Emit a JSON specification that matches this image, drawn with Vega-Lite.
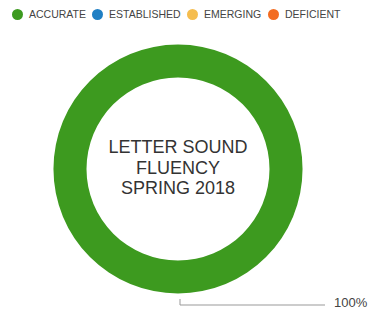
{
  "$schema": "https://vega.github.io/schema/vega-lite/v6.json",
  "width": 356,
  "height": 294,
  "autosize": {"type": "none"},
  "padding": {"left": 0, "top": 22, "right": 14, "bottom": 0},
  "background": "white",
  "config": {"view": {"stroke": null}, "font": "Liberation Sans"},
  "layer": [
    {
      "data": {"values": [{"category": "ACCURATE", "pct": 100}]},
      "mark": {"type": "arc", "outerRadius": 124.5, "innerRadius": 91.5},
      "encoding": {
        "theta": {"field": "pct", "type": "quantitative", "stack": true},
        "color": {
          "field": "category",
          "type": "nominal",
          "scale": {
            "domain": ["ACCURATE", "ESTABLISHED", "EMERGING", "DEFICIENT"],
            "range": ["#3d9a1f", "#1f7fc4", "#f5bd4f", "#f36c21"]
          },
          "legend": {
            "orient": "none",
            "legendX": 12,
            "legendY": -13,
            "direction": "horizontal",
            "columns": 4,
            "title": null,
            "symbolType": "circle",
            "symbolSize": 121,
            "symbolStrokeWidth": 0,
            "symbolOpacity": 1,
            "labelFontSize": 10.5,
            "labelColor": "#444444",
            "labelOffset": 6,
            "columnPadding": 6
          }
        }
      }
    },
    {
      "data": {"values": [{"title": "LETTER SOUND\nFLUENCY\nSPRING 2018"}]},
      "mark": {
        "type": "text",
        "lineBreak": "\n",
        "fontSize": 18,
        "lineHeight": 20.5,
        "color": "#333333",
        "align": "center",
        "baseline": "middle",
        "dy": -21
      },
      "encoding": {"text": {"field": "title", "type": "nominal"}}
    },
    {
      "data": {
        "values": [
          {"x": 2, "y": -130, "o": 0},
          {"x": 2, "y": -136, "o": 1},
          {"x": 147, "y": -136, "o": 2}
        ]
      },
      "mark": {"type": "line", "color": "#999999", "strokeWidth": 1},
      "encoding": {
        "x": {"field": "x", "type": "quantitative", "scale": {"domain": [-178, 178], "nice": false, "zero": false}, "axis": null},
        "y": {"field": "y", "type": "quantitative", "scale": {"domain": [-147, 147], "nice": false, "zero": false}, "axis": null},
        "order": {"field": "o"}
      }
    },
    {
      "data": {"values": [{"x": 156, "y": -134, "label": "100%"}]},
      "mark": {"type": "text", "align": "left", "baseline": "middle", "fontSize": 13, "color": "#444444"},
      "encoding": {
        "x": {"field": "x", "type": "quantitative", "scale": {"domain": [-178, 178], "nice": false, "zero": false}, "axis": null},
        "y": {"field": "y", "type": "quantitative", "scale": {"domain": [-147, 147], "nice": false, "zero": false}, "axis": null},
        "text": {"field": "label", "type": "nominal"}
      }
    }
  ]
}
